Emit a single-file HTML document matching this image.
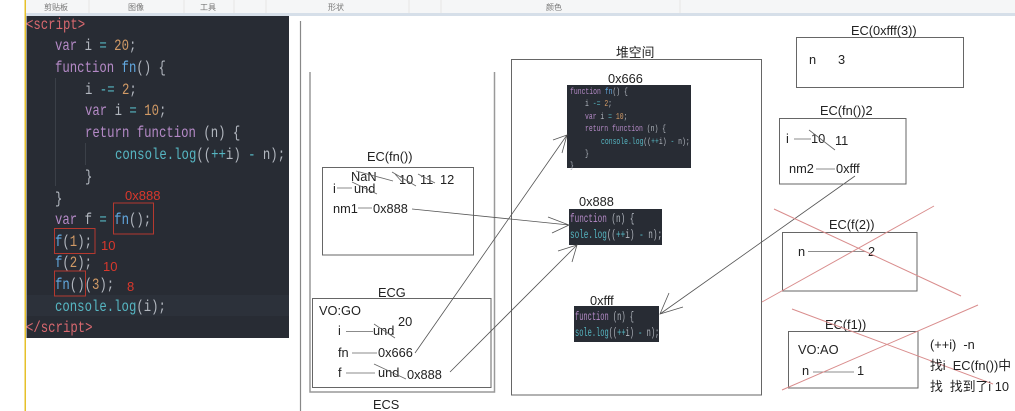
<!DOCTYPE html>
<html>
<head>
<meta charset="utf-8">
<style>
html,body{margin:0;padding:0;background:#fff;width:1015px;height:411px;overflow:hidden}
svg{display:block;filter:blur(.35px)}
text{white-space:pre;font-family:"Liberation Sans","Noto Sans CJK SC",sans-serif;font-size:12.8px;fill:#222}
.c text{font-family:"Liberation Mono",monospace;font-size:15.5px;fill:#b2b7bf}
.s text{font-family:"Liberation Mono",monospace;font-size:9px;fill:#b2b7bf}
.m text{font-family:"Liberation Mono",monospace;font-size:12px;fill:#b2b7bf}
.k{fill:#b58ac7}.f{fill:#62a8e0}.n{fill:#d19a66}.o{fill:#56b6c2}.t{fill:#d8686f}
.r{fill:#d9382c;font-size:13px}
.tb{font-size:8px;fill:#777;text-anchor:middle}
.b{fill:none;stroke:#666;stroke-width:1}
.a{fill:none;stroke:#555;stroke-width:.8}
.x{fill:none;stroke:#d98d8d;stroke-width:1}
.g{stroke:#666;stroke-width:.8;fill:none}
.rb{fill:none;stroke:#b5392f;stroke-width:1}
</style>
</head>
<body>
<svg width="1015" height="411" viewBox="0 0 1015 411" xmlns="http://www.w3.org/2000/svg">
<rect x="0" y="0" width="1015" height="411" fill="#fff"/>
<!-- toolbar -->
<rect x="26" y="0" width="989" height="13" fill="#f5f6f7"/>
<rect x="26" y="13" width="989" height="3" fill="#d6dfe9"/>
<rect x="24.5" y="0" width="1.5" height="411" fill="#e6c02a"/>
<g stroke="#e6e6e6" stroke-width="1">
<path d="M89 0V13M184 0V13M234 0V13M266 0V13M409 0V13M441 0V13M680 0V13"/>
</g>
<text class="tb" x="56" y="10">剪贴板</text>
<text class="tb" x="136" y="10">图像</text>
<text class="tb" x="208" y="10">工具</text>
<text class="tb" x="336" y="10">形状</text>
<text class="tb" x="554" y="10">颜色</text>

<!-- code panel -->
<rect x="26.5" y="16" width="262.5" height="322" fill="#282c34"/>
<rect x="26.5" y="295" width="262.5" height="21" fill="#2c313a"/>
<path d="M55.5 78V186M85.5 143V165" stroke="#3b4048" stroke-width="1"/>
<g class="c">
<text transform="translate(26,29) scale(.795,1)"><tspan class="t">&lt;script&gt;</tspan></text>
<text transform="translate(55,50) scale(.795,1)"><tspan class="k">var</tspan> i <tspan class="o">=</tspan> <tspan class="n">20</tspan>;</text>
<text transform="translate(55,72) scale(.795,1)"><tspan class="k">function</tspan> <tspan class="f">fn</tspan>() {</text>
<text transform="translate(85,94) scale(.795,1)">i <tspan class="o">-=</tspan> <tspan class="n">2</tspan>;</text>
<text transform="translate(85,115) scale(.795,1)"><tspan class="k">var</tspan> i <tspan class="o">=</tspan> <tspan class="n">10</tspan>;</text>
<text transform="translate(85,137) scale(.795,1)"><tspan class="k">return</tspan> <tspan class="k">function</tspan> (n) {</text>
<text transform="translate(115,159) scale(.795,1)"><tspan class="o">console.log</tspan>((<tspan class="o">++</tspan>i) <tspan class="o">-</tspan> n);</text>
<text transform="translate(85,181) scale(.795,1)">}</text>
<text transform="translate(55,203) scale(.795,1)">}</text>
<text transform="translate(55,224) scale(.795,1)"><tspan class="k">var</tspan> f <tspan class="o">=</tspan> <tspan class="f">fn</tspan>();</text>
<text transform="translate(55,246) scale(.795,1)"><tspan class="f">f</tspan>(<tspan class="n">1</tspan>);</text>
<text transform="translate(55,267) scale(.795,1)"><tspan class="f">f</tspan>(<tspan class="n">2</tspan>);</text>
<text transform="translate(55,289) scale(.795,1)"><tspan class="f">fn</tspan>()(<tspan class="n">3</tspan>);</text>
<text transform="translate(55,311) scale(.795,1)"><tspan class="o">console.log</tspan>(i);</text>
<text transform="translate(26,332) scale(.795,1)"><tspan class="t">&lt;/script&gt;</tspan></text>
</g>
<rect class="rb" x="113.5" y="203" width="40" height="31"/>
<rect class="rb" x="54.5" y="228.5" width="40.5" height="25"/>
<rect class="rb" x="54.5" y="271" width="31" height="25"/>
<text class="r" x="125" y="200">0x888</text>
<text class="r" x="101" y="250">10</text>
<text class="r" x="103" y="271">10</text>
<text class="r" x="127" y="291">8</text>

<!-- stack -->
<path d="M300.5 21V411" stroke="#888" stroke-width="1.2" fill="none"/>
<path d="M310 72V392H494.5V72" fill="none" stroke="#999" stroke-width="1.5"/>
<rect class="b" x="312.5" y="298.5" width="178.5" height="89"/>
<rect class="b" x="322.5" y="167.5" width="151" height="87.5"/>
<text x="367" y="161">EC(fn())</text>
<text x="351" y="181">NaN</text>
<text x="399" y="184">10</text>
<text x="420" y="184">11</text>
<text x="440" y="184">12</text>
<text x="333" y="193">i</text>
<text x="354" y="193">und</text>
<text x="333" y="213">nm1</text>
<text x="373" y="213">0x888</text>
<path class="g" d="M337 188H352M358 208H372M356 171L393 181M352 182L377 194M392 172L416 186M418 174L435 183M395 174L403 183"/>
<text x="378" y="297">ECG</text>
<text x="319" y="315">VO:GO</text>
<text x="338" y="335">i</text>
<text x="373" y="335">und</text>
<text x="398" y="326">20</text>
<text x="338" y="357">fn</text>
<text x="378" y="357">0x666</text>
<text x="338" y="377">f</text>
<text x="378" y="377">und</text>
<text x="407" y="379">0x888</text>
<path class="g" d="M346 331.5H373M352 353H377M346 373H375M374 324L395 338M374 364L406 379"/>
<text x="373" y="409">ECS</text>

<!-- heap -->
<rect class="b" x="511.5" y="59.5" width="250" height="335.5"/>
<text x="616" y="57">堆空间</text>
<text x="608" y="83">0x666</text>
<rect x="567" y="85" width="124" height="83" fill="#282c34"/>
<g class="s">
<text transform="translate(570,94) scale(.715,1)"><tspan class="k">function</tspan> <tspan class="f">fn</tspan>() {</text>
<text transform="translate(585,106) scale(.715,1)">i <tspan class="o">-=</tspan> <tspan class="n">2</tspan>;</text>
<text transform="translate(585,119) scale(.715,1)"><tspan class="k">var</tspan> i <tspan class="o">=</tspan> <tspan class="n">10</tspan>;</text>
<text transform="translate(585,131) scale(.715,1)"><tspan class="k">return</tspan> <tspan class="k">function</tspan> (n) {</text>
<text transform="translate(601,144) scale(.715,1)"><tspan class="o">console.log</tspan>((<tspan class="o">++</tspan>i) <tspan class="o">-</tspan> n);</text>
<text transform="translate(585,156) scale(.715,1)">}</text>
<text transform="translate(570,168) scale(.715,1)">}</text>
</g>
<text x="579" y="206">0x888</text>
<rect x="569" y="209" width="93" height="36" fill="#282c34"/>
<g class="m">
<text transform="translate(570,222) scale(.64,1)"><tspan class="k">function</tspan> (n) {</text>
<text transform="translate(570,238) scale(.64,1)"><tspan class="o">sole.log</tspan>((<tspan class="o">++</tspan>i) <tspan class="o">-</tspan> n);</text>
</g>
<text x="590" y="305">0xfff</text>
<rect x="574" y="306" width="85" height="36" fill="#282c34"/>
<g class="m">
<text transform="translate(575,320) scale(.585,1)"><tspan class="k">function</tspan> (n) {</text>
<text transform="translate(575,336) scale(.585,1)"><tspan class="o">sole.log</tspan>((<tspan class="o">++</tspan>i) <tspan class="o">-</tspan> n);</text>
</g>

<!-- arrows -->
<path class="a" d="M415 353L567 135M553 140L567 135L562 153"/>
<path class="a" d="M412 209L569 225M548 217L569 225L552 233"/>
<path class="a" d="M450 372L577 245M558 251L577 245L572 262"/>
<path class="a" d="M855 176L660 314M669 293L660 314L683 307"/>

<!-- right boxes -->
<rect class="b" x="796.5" y="37.5" width="167" height="50"/>
<text x="851" y="35">EC(0xfff(3))</text>
<text x="809" y="64">n</text>
<text x="838" y="64">3</text>

<rect class="b" x="779.5" y="118.5" width="126.5" height="65.5"/>
<text x="820" y="115">EC(fn())2</text>
<text x="786" y="143">i</text>
<text x="811" y="143">10</text>
<text x="835" y="145">11</text>
<text x="789" y="173">nm2</text>
<text x="836" y="173">0xfff</text>
<path class="g" d="M794 139H811M816 169H835M809 130L835 150"/>

<rect class="b" x="782.5" y="232.5" width="134.5" height="58.5"/>
<text x="829" y="229">EC(f(2))</text>
<text x="798" y="256">n</text>
<text x="868" y="256">2</text>
<path class="g" d="M808 251.5H866"/>
<path class="x" d="M774 209L961 296M762 302L934 206"/>

<rect class="b" x="788.5" y="331.5" width="129.5" height="56.5"/>
<text x="825" y="329">EC(f1))</text>
<text x="798" y="354">VO:AO</text>
<text x="802" y="375">n</text>
<text x="857" y="375">1</text>
<path class="g" d="M813 372H854"/>
<path class="x" d="M792 309L993 384M782 390L978 305"/>
<text x="930" y="349">(++i)  -n</text>
<text x="930" y="370">找i  EC(fn())中</text>
<text x="930" y="391">找  找到了i 10</text>
</svg>
</body>
</html>
